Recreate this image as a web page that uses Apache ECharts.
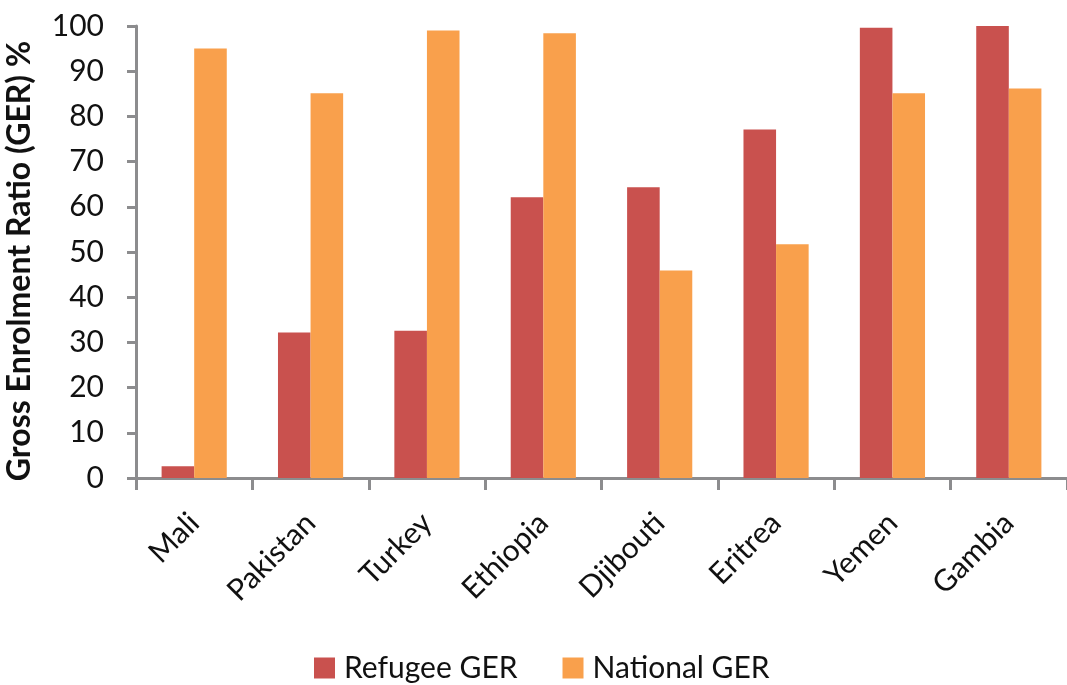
<!DOCTYPE html>
<html>
<head>
<meta charset="utf-8">
<script src="https://cdn.jsdelivr.net/npm/echarts@6/dist/echarts.min.js"></script>
<style>html,body{margin:0;padding:0;background:#fff}#c{width:1067px;height:685px}</style>
</head>
<body>
<div id="c"></div>
<script>
const categories = ['Mali', 'Pakistan', 'Turkey', 'Ethiopia', 'Djibouti', 'Eritrea', 'Yemen', 'Gambia'];
const refugeeGER = [2.6, 32.2, 32.6, 62.1, 64.3, 77.1, 99.6, 100.2];
const nationalGER = [95.0, 85.1, 99.0, 98.4, 45.9, 51.7, 85.1, 86.2];
const yTicks = { min: 0, max: 100, interval: 10 };

const font = 'Lato, "Open Sans", "DejaVu Sans", sans-serif';
const axisGray = '#8c8c8e';
const chart = echarts.init(document.getElementById('c'), null, { renderer: 'canvas' });
chart.setOption({
  animation: false,
  textStyle: { fontFamily: font },
  grid: { left: 136, top: 26, right: 0, bottom: 207, containLabel: false, outerBoundsMode: 'none' },
  legend: {
    top: 648, left: 309, itemWidth: 21, itemHeight: 21, itemGap: 45,
    icon: 'rect',
    textStyle: { fontSize: 30, color: '#111', fontFamily: font, padding: [0, 0, 0, 4] },
    data: ['Refugee GER', 'National GER']
  },
  xAxis: {
    type: 'category', data: categories,
    axisLine: { lineStyle: { color: axisGray, width: 3 } },
    axisTick: { show: true, length: 12, lineStyle: { color: axisGray, width: 3 }, alignWithLabel: false },
    axisLabel: { rotate: 45, fontSize: 30, color: '#111', margin: 40, interval: 0 }
  },
  yAxis: {
    type: 'value', min: yTicks.min, max: yTicks.max, interval: yTicks.interval,
    name: 'Gross Enrolment Ratio (GER) %', nameLocation: 'middle', nameGap: 100,
    nameTextStyle: { fontSize: 32, fontWeight: 'bold', color: '#111', padding: [0, 18, 0, 0] },
    axisLine: { show: true, lineStyle: { color: axisGray, width: 3 } },
    axisTick: { show: true, length: 9, lineStyle: { color: axisGray, width: 3 } },
    splitLine: { show: false },
    axisLabel: { fontSize: 30, color: '#111', margin: 32 }
  },
  series: [
    { name: 'Refugee GER', type: 'bar', data: refugeeGER, barGap: '0%', barCategoryGap: '44%',
      itemStyle: { color: '#C9514E' } },
    { name: 'National GER', type: 'bar', data: nationalGER,
      itemStyle: { color: '#F9A04C' } }
  ]
});
</script>
</body>
</html>
